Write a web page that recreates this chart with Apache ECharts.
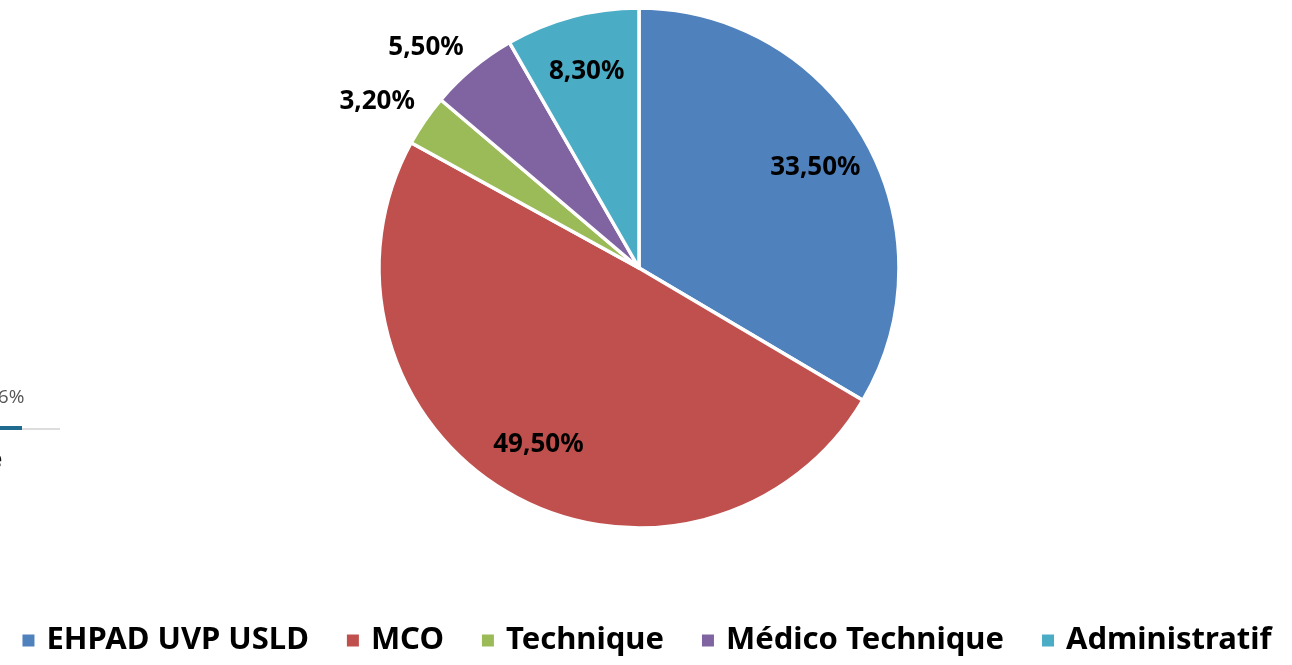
<!DOCTYPE html>
<html>
<head>
<meta charset="utf-8">
<script src="https://cdn.jsdelivr.net/npm/echarts@6/dist/echarts.min.js"></script>
<style>
  html, body { margin: 0; padding: 0; background: #fff; }
  #chart { width: 1292px; height: 665px; }
</style>
</head>
<body>
<div id="chart"></div>
<script>
var categories = ['EHPAD UVP USLD', 'MCO', 'Technique', 'Médico Technique', 'Administratif'];
var values = [33.5, 49.5, 3.2, 5.5, 8.3];
var colors = ['#4F81BD', '#C0504D', '#9BBB59', '#8064A2', '#4BACC6'];

var FONT = '"Noto Sans", sans-serif';

function pct(v) {
  return v.toFixed(2).replace('.', ',') + '%';
}

var myChart = echarts.init(document.getElementById('chart'));

var mainData = categories.map(function (name, i) {
  var small = values[i] < 6;
  return {
    name: name,
    value: values[i],
    itemStyle: { color: colors[i] },
    label: { show: small }
  };
});

var labelData = categories.map(function (name, i) {
  return {
    name: name,
    value: values[i],
    label: { show: values[i] >= 6 }
  };
});

var option = {
  animation: false,
  color: colors,
  legend: {
    bottom: 4,
    left: 'center',
    icon: 'rect',
    itemWidth: 14,
    itemHeight: 14,
    itemGap: 36,
    data: categories,
    textStyle: {
      fontFamily: FONT,
      fontSize: 31,
      fontWeight: 'bold',
      color: '#000',
      padding: [0, 0, 0, 6]
    }
  },
  graphic: [
    { type: 'text', left: -13, top: 388, style: { text: '46%', fontSize: 19, fill: '#555', fontFamily: 'Open Sans' } },
    { type: 'rect', shape: { x: 0, y: 428, width: 60, height: 2 }, style: { fill: '#ddd' } },
    { type: 'rect', shape: { x: 0, y: 426, width: 22, height: 4 }, style: { fill: '#1f6b8f' } },
    { type: 'text', left: -12, top: 448, style: { text: 'e', fontSize: 24, fontWeight: 'bold', fill: '#111', fontFamily: 'Noto Sans' } }
  ],
  series: [{
    name: 'main',
    type: 'pie',
    center: [639, 268],
    radius: [0, 260],
    startAngle: 90,
    clockwise: true,
    avoidLabelOverlap: false,
    itemStyle: { borderColor: '#fff', borderWidth: 3.5 },
    label: {
      position: 'outside',
      formatter: function (p) { return pct(p.value); },
      fontFamily: FONT,
      fontSize: 26,
      fontWeight: 'bold',
      color: '#000'
    },
    // lift the outside labels a little, as in the original
    labelLayout: function () {
      return { dy: -16, hideOverlap: false };
    },
    labelLine: { show: false, length: 6, length2: 0 },
    emphasis: { disabled: true },
    data: mainData
  }, {
    name: 'labels',
    type: 'pie',
    center: [639, 268],
    radius: [140, 260],
    startAngle: 90,
    clockwise: true,
    silent: true,
    itemStyle: { color: 'transparent' },
    label: {
      position: 'inside',
      formatter: function (p) { return pct(p.value); },
      fontFamily: FONT,
      fontSize: 26,
      fontWeight: 'bold',
      color: '#000'
    },
    labelLine: { show: false },
    emphasis: { disabled: true },
    data: labelData
  }]
};

myChart.setOption(option);
</script>
</body>
</html>
